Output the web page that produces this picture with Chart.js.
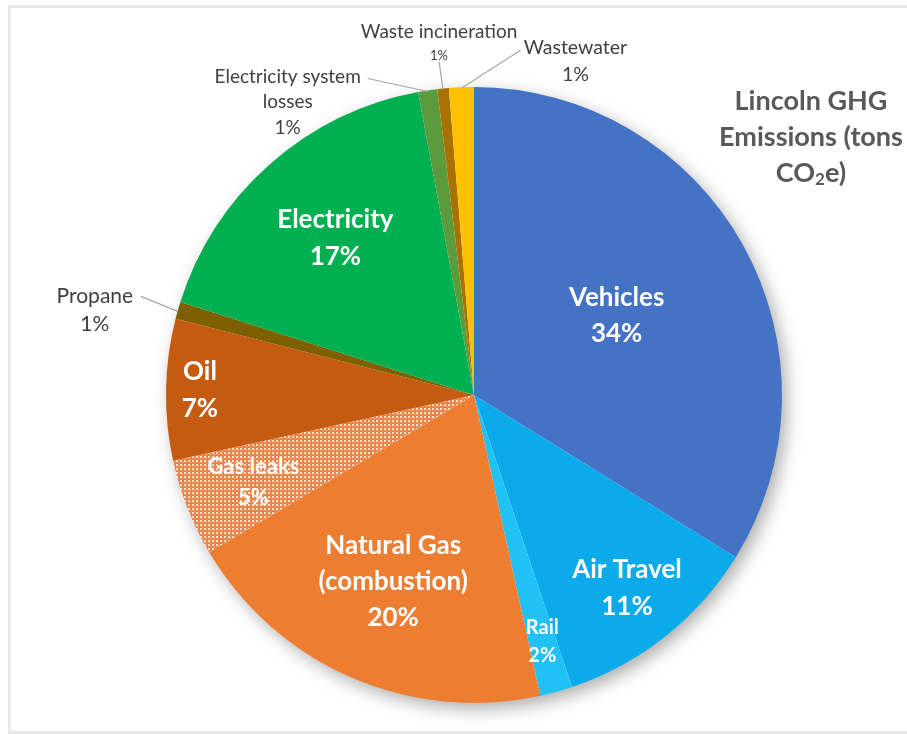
<!DOCTYPE html>
<html>
<head>
<meta charset="utf-8">
<script src="https://cdn.jsdelivr.net/npm/chart.js@4.4.0/dist/chart.umd.min.js"></script>
<style>
  html, body { margin: 0; padding: 0; background: #fff; }
  canvas { display: block; }
</style>
</head>
<body>
<canvas id="ghgPie" width="907" height="734"></canvas>
<script>
// data (share of total, %)
const categories = ["Vehicles", "Air Travel", "Rail", ["Natural Gas", "(combustion)"], "Gas leaks", "Oil",
                    "Propane", "Electricity", ["Electricity system", "losses"], "Waste incineration", "Wastewater"];
const shares = [33.8, 11.0, 1.7, 19.9, 5.1, 7.4, 0.9, 17.2, 1.0, 0.6, 1.3];
const titleLines = ["Lincoln GHG", "Emissions (tons", "CO|2|e)"];

// styling
const sliceColors = ["#4472C4", "#0AAAEB", "#20C2F5", "#ED7D31", null, "#C55A11",
                     "#7F6000", "#00B050", "#5B9B3B", "#A87100", "#FFC000"];
const FONT = "Lato, 'Open Sans', sans-serif";
// inside labels: radius fraction + font size ; outside labels: offsets from the slice edge
const innerLabels = {
    0: { r: 0.53, size: 26 }, 1: { r: 0.80, size: 26 }, 2: { r: 0.83, size: 20 },
    3: { r: 0.66, size: 26 }, 4: { r: 0.77, size: 22 }, 5: { r: 0.89, size: 26 },
    7: { r: 0.68, size: 26 }
};
const outerLabels = {
    6:  { dx: -83, dy: -14, lead: [-37, -14], size: 21, gap: 28 },
    8:  { dx: -140, dy: -14, lead: [-60, -12], size: 19, gap: 25.5 },
    9:  { dx: -4, dy: -57, lead: [-4, -27], size: 19, pctSize: 13, gap: 24 },
    10: { dx: 114, dy: -40, lead: [59, -37], size: 19.5, gap: 27 }
};

// dotted fill for the gas leaks slice
function dotPattern() {
    const c = document.createElement("canvas");
    c.width = 4; c.height = 4;
    const g = c.getContext("2d");
    g.fillStyle = "#EE8240";
    g.fillRect(0, 0, 4, 4);
    g.fillStyle = "rgba(255,255,255,0.75)";
    g.fillRect(0, 0, 2, 2);
    g.fillStyle = "rgba(255,255,255,0.3)";
    g.fillRect(2, 2, 1, 1);
    return g.createPattern(c, "repeat");
}
const ctx0 = document.getElementById("ghgPie").getContext("2d");
sliceColors[4] = dotPattern();

const total = shares.reduce((a, b) => a + b, 0);
const pctText = i => Math.round(shares[i] / total * 100) + "%";

const pieShadow = {
    id: "pieShadow",
    beforeDatasetsDraw(chart) {
        const arc = chart.getDatasetMeta(0).data[0];
        const { x, y, outerRadius } = arc.getProps(["x", "y", "outerRadius"], true);
        const ctx = chart.ctx;
        ctx.save();
        ctx.shadowColor = "rgba(0,0,0,0.35)";
        ctx.shadowBlur = 18;
        ctx.shadowOffsetX = 5;
        ctx.shadowOffsetY = 6;
        ctx.fillStyle = "#fff";
        ctx.beginPath();
        ctx.arc(x, y, outerRadius - 1, 0, Math.PI * 2);
        ctx.fill();
        ctx.restore();
    }
};

const sliceLabels = {
    id: "sliceLabels",
    afterDatasetsDraw(chart) {
        const ctx = chart.ctx;
        const meta = chart.getDatasetMeta(0);
        ctx.save();
        ctx.textAlign = "center";
        ctx.textBaseline = "middle";
        meta.data.forEach((arc, i) => {
            const p = arc.getProps(["x", "y", "startAngle", "endAngle", "outerRadius"], true);
            const mid = (p.startAngle + p.endAngle) / 2;
            const name = [].concat(categories[i]);
            if (innerLabels[i]) {
                const s = innerLabels[i];
                const lines = name.concat(pctText(i));
                const gap = s.size * 1.4;
                const cx = p.x + Math.cos(mid) * p.outerRadius * s.r;
                const cy = p.y + Math.sin(mid) * p.outerRadius * s.r;
                ctx.fillStyle = "#fff";
                ctx.font = "bold " + s.size + "px " + FONT;
                lines.forEach((t, k) => ctx.fillText(t, cx, cy + (k - (lines.length - 1) / 2) * gap));
            } else if (outerLabels[i]) {
                const s = outerLabels[i];
                const ex = p.x + Math.cos(mid) * p.outerRadius;
                const ey = p.y + Math.sin(mid) * p.outerRadius;
                ctx.strokeStyle = "#A6A6A6";
                ctx.lineWidth = 1.2;
                ctx.beginPath();
                ctx.moveTo(ex + s.lead[0], ey + s.lead[1]);
                ctx.lineTo(ex, ey + 1);
                ctx.stroke();
                ctx.fillStyle = "#404040";
                const lines = name.concat(pctText(i));
                lines.forEach((t, k) => {
                    const sz = (k === lines.length - 1 && s.pctSize) ? s.pctSize : s.size;
                    ctx.font = sz + "px " + FONT;
                    ctx.fillText(t, ex + s.dx, ey + s.dy + k * s.gap);
                });
            }
        });
        ctx.restore();
    }
};

const titleAndFrame = {
    id: "titleAndFrame",
    afterDraw(chart) {
        const ctx = chart.ctx;
        ctx.save();
        ctx.strokeStyle = "#E9E9E9";
        ctx.lineWidth = 3;
        ctx.strokeRect(9.5, 6.5, 920, 726);
        ctx.fillStyle = "#595959";
        ctx.textBaseline = "middle";
        const cx = 811, y0 = 101, gap = 36;
        titleLines.forEach((line, k) => {
            const parts = line.split("|");
            const sizes = parts.map((_, j) => (parts.length === 3 && j === 1) ? 17 : 27);
            let w = 0;
            parts.forEach((t, j) => { ctx.font = "bold " + sizes[j] + "px " + FONT; w += ctx.measureText(t).width; });
            let x = cx - w / 2;
            ctx.textAlign = "left";
            parts.forEach((t, j) => {
                ctx.font = "bold " + sizes[j] + "px " + FONT;
                ctx.fillText(t, x, y0 + k * gap + (sizes[j] < 27 ? 7 : 0));
                x += ctx.measureText(t).width;
            });
        });
        ctx.restore();
    }
};

new Chart(ctx0, {
    type: "pie",
    data: {
        labels: categories,
        datasets: [{
            data: shares,
            backgroundColor: sliceColors,
            borderWidth: 0
        }]
    },
    options: {
        responsive: false,
        animation: false,
        layout: { padding: { left: 165, right: 124, top: 87, bottom: 31 } },
        plugins: {
            legend: { display: false },
            tooltip: { enabled: false }
        }
    },
    plugins: [pieShadow, sliceLabels, titleAndFrame]
});
</script>
</body>
</html>
